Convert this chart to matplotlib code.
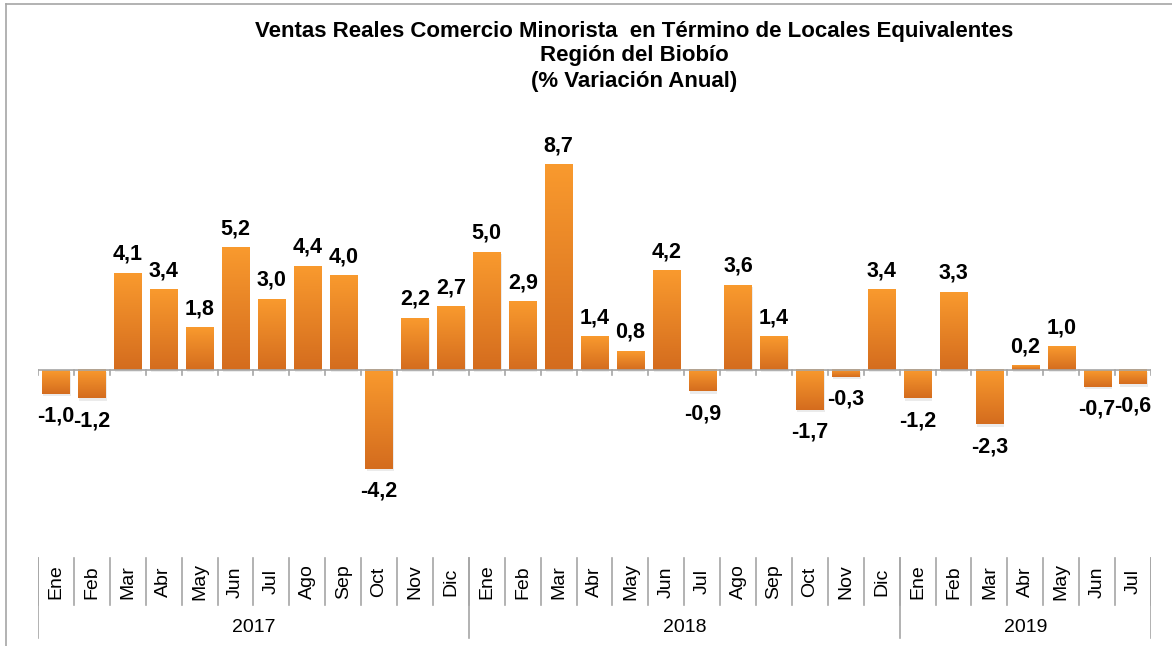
import numpy as np
import matplotlib.pyplot as plt
from matplotlib.colors import LinearSegmentedColormap
from matplotlib.patches import Rectangle
from matplotlib.lines import Line2D

meses = ["Ene", "Feb", "Mar", "Abr", "May", "Jun", "Jul", "Ago", "Sep", "Oct", "Nov", "Dic",
         "Ene", "Feb", "Mar", "Abr", "May", "Jun", "Jul", "Ago", "Sep", "Oct", "Nov", "Dic",
         "Ene", "Feb", "Mar", "Abr", "May", "Jun", "Jul"]
anios = ["2017", "2018", "2019"]
meses_por_anio = [12, 12, 7]
variacion = [-1.0, -1.2, 4.1, 3.4, 1.8, 5.2, 3.0, 4.4, 4.0, -4.2, 2.2, 2.7,
             5.0, 2.9, 8.7, 1.4, 0.8, 4.2, -0.9, 3.6, 1.4, -1.7, -0.3, 3.4,
             -1.2, 3.3, -2.3, 0.2, 1.0, -0.7, -0.6]

plt.rcParams['font.family'] = ['Liberation Sans', 'DejaVu Sans']

W, H = 1172, 646
fig = plt.figure(figsize=(W / 100, H / 100), dpi=100)

# outer frame (only left and top edges visible)
fig.add_artist(Line2D([6 / W, 6 / W], [0, (H - 4) / H], transform=fig.transFigure, color="#a6a6a6", lw=1.2))
fig.add_artist(Line2D([6 / W, 1], [(H - 4) / H, (H - 4) / H], transform=fig.transFigure, color="#a6a6a6", lw=1.2))

tsize = 16
fig.text(0.541, (H - 31) / H, "Ventas Reales Comercio Minorista  en Término de Locales Equivalentes",
         ha="center", va="center", fontsize=tsize, fontweight="bold")
fig.text(0.541, (H - 56) / H, "Región del Biobío", ha="center", va="center", fontsize=tsize, fontweight="bold")
fig.text(0.541, (H - 81) / H, "(% Variación Anual)", ha="center", va="center", fontsize=tsize, fontweight="bold")

# main axes: zero line at y=370 px
ymin, ymax = -5.5, 10.0
px_per_unit = 23.6
top_px = 370 - ymax * px_per_unit
bot_px = 370 - ymin * px_per_unit
left_px, right_px = 38, 1151
ax = fig.add_axes([left_px / W, (H - bot_px) / H, (right_px - left_px) / W, (bot_px - top_px) / H])
n = len(variacion)
ax.set_xlim(-0.5, n - 0.5)
ax.set_ylim(ymin, ymax)
ax.axis("off")

cmap = LinearSegmentedColormap.from_list("naranja", ["#d46c1e", "#f99a2e"])
grad = np.linspace(0, 1, 256).reshape(-1, 1)
bw = 0.76
x = np.arange(n)
bars = ax.bar(x, variacion, width=bw, color="none")
for b, v in zip(bars, variacion):
    x0 = b.get_x()
    lo, hi = min(0, v), max(0, v)
    # faint shadow
    ax.add_patch(Rectangle((x0 + 0.03, lo - 0.1), bw, hi - lo, color="#000000", alpha=0.08, lw=0, zorder=1))
    ax.imshow(grad, cmap=cmap, aspect="auto", origin="lower",
              extent=[x0, x0 + bw, lo, hi], zorder=2)
    txt = f"{v:.1f}".replace(".", ",")
    if v >= 0:
        ax.text(x0 + bw / 2, v + 0.35, txt, ha="center", va="bottom",
                fontsize=15.5, fontweight="bold", zorder=3)
    else:
        ax.text(x0 + bw / 2, v - 0.5, txt, ha="center", va="top",
                fontsize=15.5, fontweight="bold", zorder=3)

ax.axhline(0, color="#a6a6a6", lw=1.2, zorder=4)
tick_len = 5 / px_per_unit
for k in range(n + 1):
    ax.add_line(Line2D([k - 0.5, k - 0.5], [0, -tick_len], color="#a6a6a6", lw=1.2, zorder=4))

# category label table below
lab = fig.add_axes([left_px / W, 0, (right_px - left_px) / W, (H - 550) / H])
lab.set_xlim(-0.5, n - 0.5)
lab.set_ylim(H, 550)
lab.axis("off")
for k in range(n + 1):
    lab.plot([k - 0.5, k - 0.5], [558, 605], color="#a6a6a6", lw=1.2)
for i, m in enumerate(meses):
    lab.text(i, 582, m, rotation=90, ha="center", va="center", fontsize=14)
start = 0
for a, cnt in zip(anios, meses_por_anio):
    lab.plot([start - 0.5, start - 0.5], [558, 638], color="#a6a6a6", lw=1.2)
    lab.text(start - 0.5 + cnt / 2, 628, a, ha="center", va="center", fontsize=14)
    start += cnt
lab.plot([start - 0.5, start - 0.5], [558, 638], color="#a6a6a6", lw=1.2)

fig.savefig("out.png", dpi=100)
